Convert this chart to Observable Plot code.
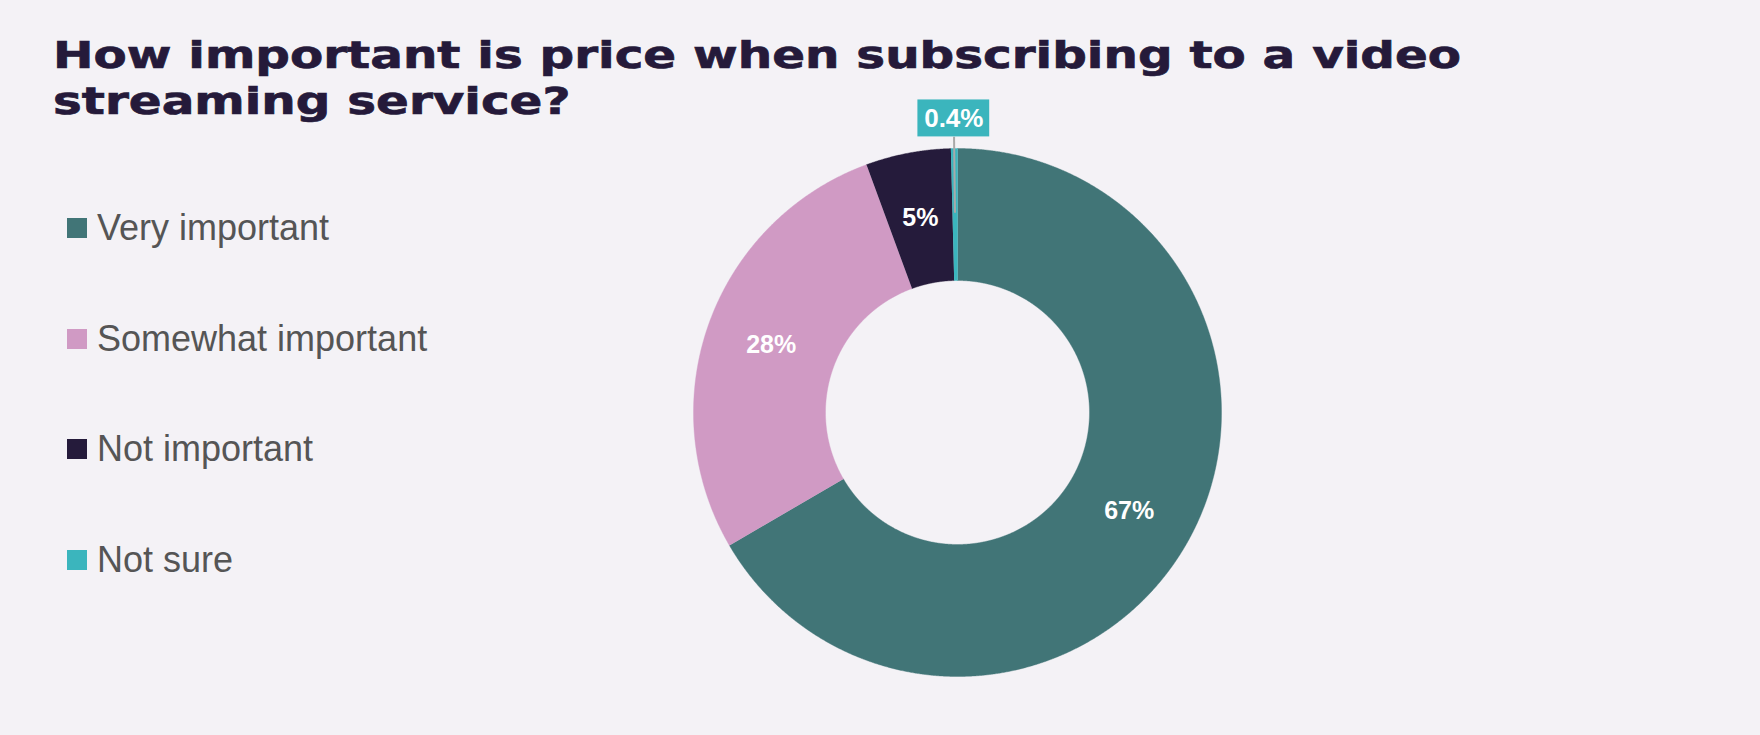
<!DOCTYPE html>
<html>
<head>
<meta charset="utf-8">
<script src="https://cdn.jsdelivr.net/npm/d3@7"></script>
<script src="https://cdn.jsdelivr.net/npm/@observablehq/plot@0.6"></script>
<style>
  html, body { margin: 0; padding: 0; background: #f4f2f6; }
  #wrap { position: relative; width: 1760px; height: 735px; overflow: hidden; background: #f4f2f6; }
  #title { position: absolute; left: 53px; top: 32px; font-family: "DejaVu Sans", sans-serif; font-weight: bold;
           font-size: 38px; line-height: 46px; color: #251a3a; white-space: nowrap;
           -webkit-text-stroke: 0.7px #251a3a; }
  #title span { display: block; transform-origin: 0 50%; }
  #legend { position: absolute; left: 67px; top: 208px; font-family: "Liberation Sans", Arial, sans-serif;
            font-size: 36px; line-height: 40px; color: #555555; }
  .item { display: flex; align-items: flex-start; height: 40px; margin-bottom: 70.7px; white-space: nowrap; }
  .sw { width: 20px; height: 20px; margin-top: 10px; margin-right: 10px; flex: none; }
  #chart { position: absolute; left: 0; top: 0; }
</style>
</head>
<body>
<div id="wrap">
  <div id="chart"></div>
  <div id="title"></div>
  <div id="legend"></div>
</div>
<script>
const titleLines = ["How important is price when subscribing to a video", "streaming service?"];
const categories = ["Very important", "Somewhat important", "Not important", "Not sure"];
const values = [66.6, 27.8, 5.2, 0.4];
const labels = ["67%", "28%", "5%", "0.4%"];
const colors = ["#417577", "#d09ac4", "#251b3b", "#3bb5bd"];

const rows = categories.map((c, i) => ({cat: c, value: values[i], label: labels[i]}));
const arcs = d3.pie().sort(null).value(d => d.value)(rows);

const outerR = 1, innerR = 0.5, labelR = 0.75;
const pts = [];
for (const a of arcs) {
  const n = Math.max(2, Math.ceil((a.endAngle - a.startAngle) / 0.004));
  for (let i = 0; i <= n; i++) {
    const t = a.startAngle + (a.endAngle - a.startAngle) * i / n;
    pts.push({cat: a.data.cat, x: outerR * Math.sin(t), y: outerR * Math.cos(t)});
  }
  for (let i = n; i >= 0; i--) {
    const t = a.startAngle + (a.endAngle - a.startAngle) * i / n;
    pts.push({cat: a.data.cat, x: innerR * Math.sin(t), y: innerR * Math.cos(t)});
  }
}
const mids = arcs.map(a => {
  const m = (a.startAngle + a.endAngle) / 2;
  return {cat: a.data.cat, label: a.data.label, value: a.data.value, angle: m,
          x: labelR * Math.sin(m), y: labelR * Math.cos(m)};
});
const inside = mids.filter(d => d.value >= 1);
const outside = mids.filter(d => d.value < 1);
const calloutR = 1.114, leaderR0 = 0.757, leaderR1 = 1.045;
const callout = outside.map(d => ({...d, cx: calloutR * Math.sin(d.angle), cy: calloutR * Math.cos(d.angle)}));

const chart = Plot.plot({
  width: 1760,
  height: 735,
  margin: 0,
  x: {domain: [-1, 1], range: [693, 1221], axis: null},
  y: {domain: [-1, 1], range: [676, 148], axis: null},
  color: {domain: categories, range: colors},
  style: {background: "transparent", overflow: "visible"},
  marks: [
    Plot.line(pts, {x: "x", y: "y", z: "cat", fill: "cat", stroke: "cat", strokeWidth: 0.4, curve: "linear"}),
    Plot.text(inside, {x: "x", y: "y", text: "label", fill: "white", fontSize: 25, fontWeight: "bold",
                       fontFamily: "Liberation Sans, Arial, sans-serif"}),
    Plot.link(callout, {x1: d => leaderR0 * Math.sin(d.angle), y1: d => leaderR0 * Math.cos(d.angle),
                        x2: d => leaderR1 * Math.sin(d.angle), y2: d => leaderR1 * Math.cos(d.angle),
                        stroke: "#a9a9a9", strokeWidth: 2}),
    Plot.rect(callout, {x1: d => d.cx - 0.136, x2: d => d.cx + 0.136, y1: d => d.cy - 0.07, y2: d => d.cy + 0.07,
                        fill: "cat"}),
    Plot.text(callout, {x: "cx", y: "cy", text: "label", fill: "white", fontSize: 26, fontWeight: "bold",
                        fontFamily: "Liberation Sans, Arial, sans-serif"})
  ]
});
document.getElementById("chart").appendChild(chart);

// title
const titleEl = document.getElementById("title");
const spans = titleLines.map(t => { const s = document.createElement("span"); s.textContent = t; titleEl.appendChild(s); return s; });
const meas = document.createElement("span");
meas.style.display = "inline-block";
meas.textContent = titleLines[0];
titleEl.appendChild(meas);
const w = meas.getBoundingClientRect().width;
titleEl.removeChild(meas);
const k = 1408 / w;
spans.forEach(s => s.style.transform = `scaleX(${k})`);

// legend
const legendEl = document.getElementById("legend");
categories.forEach((c, i) => {
  const it = document.createElement("div"); it.className = "item";
  const sw = document.createElement("div"); sw.className = "sw"; sw.style.background = colors[i];
  const tx = document.createElement("span"); tx.textContent = c;
  it.appendChild(sw); it.appendChild(tx); legendEl.appendChild(it);
});
</script>
</body>
</html>
